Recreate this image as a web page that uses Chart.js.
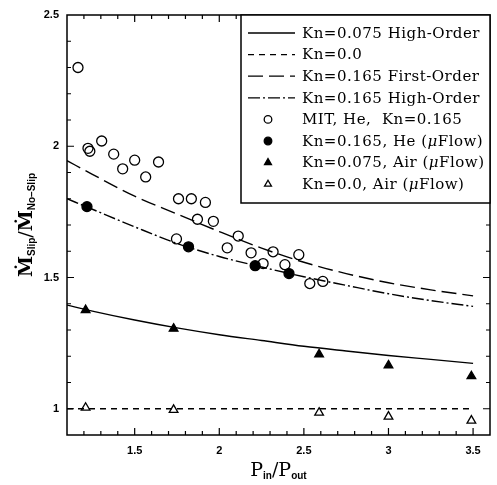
<!DOCTYPE html>
<html>
<head>
<meta charset="utf-8">
<script src="https://cdn.jsdelivr.net/npm/chart.js@4.4.1/dist/chart.umd.min.js"></script>
<style>
  html, body { margin: 0; padding: 0; background: #fff; }
  #wrap { width: 497px; height: 485px; }
</style>
</head>
<body>
<div id="wrap"><canvas id="slipChart" width="497" height="485"></canvas></div>
<script>
// ---- data ----
const xTicks = [1.5, 2, 2.5, 3, 3.5];
const yTicks = [1, 1.5, 2, 2.5];

// model curves (pressure ratio -> mass flow ratio)
const curveX = [1.1, 1.25, 1.5, 1.75, 2.0, 2.25, 2.5, 2.75, 3.0, 3.25, 3.5];
const kn075High = [1.395, 1.372, 1.338, 1.308, 1.282, 1.26, 1.238, 1.22, 1.203, 1.188, 1.173];
const kn0 = [1, 1, 1, 1, 1, 1, 1, 1, 1, 1, 1];
const kn165First = [1.945, 1.893, 1.81, 1.742, 1.675, 1.612, 1.558, 1.515, 1.48, 1.453, 1.43];
const kn165High = [1.80, 1.76, 1.693, 1.63, 1.58, 1.54, 1.503, 1.47, 1.438, 1.412, 1.39];

// MIT experiments, He
const mitX = [1.165, 1.224, 1.235, 1.305, 1.376, 1.429, 1.5, 1.565, 1.641, 1.759, 1.835, 1.918,
              1.871, 1.965, 1.747, 2.047, 2.112, 2.188, 2.259, 2.318, 2.388, 2.47, 2.535, 2.612];
const mitY = [2.30, 1.992, 1.981, 2.02, 1.97, 1.914, 1.947, 1.883, 1.94, 1.80, 1.80, 1.786,
              1.722, 1.714, 1.647, 1.613, 1.658, 1.594, 1.553, 1.598, 1.549, 1.587, 1.477, 1.485];

// muFlow simulations
const heFlowX = [1.218, 1.818, 2.212, 2.412];
const heFlowY = [1.77, 1.617, 1.545, 1.515];
const airX = [1.21, 1.73, 2.59, 3.0, 3.49];
const air075Y = [1.376, 1.305, 1.207, 1.165, 1.124];
const air0Y = [1.004, 0.996, 0.985, 0.97, 0.955];

function pairs(xs, ys) {
    return xs.map((x, i) => ({ x: x, y: ys[i] }));
}

const SERIF = '"DejaVu Serif", serif';
const SANS = '"Liberation Sans", Arial, sans-serif';

// draws a run of text pieces {text, font, dy} starting at x (or centred)
function drawRich(ctx, pieces, x, y, align) {
    let total = 0;
    pieces.forEach(p => { ctx.font = p.font; total += ctx.measureText(p.text).width; });
    let cx = align === 'center' ? x - total / 2 : x;
    pieces.forEach(p => {
        ctx.font = p.font;
        ctx.fillText(p.text, cx, y + (p.dy || 0));
        cx += ctx.measureText(p.text).width;
    });
}

function drawMarker(ctx, style, r, x, y, filled) {
    ctx.beginPath();
    if (style === 'triangle') {
        for (let k = 0; k < 3; k++) {
            const a = k * 2 * Math.PI / 3;
            const px = x + Math.sin(a) * r, py = y - Math.cos(a) * r;
            if (k === 0) ctx.moveTo(px, py); else ctx.lineTo(px, py);
        }
        ctx.closePath();
    } else {
        ctx.arc(x, y, r, 0, Math.PI * 2);
    }
    if (filled) ctx.fill();
    ctx.stroke();
}

// frame with inward ticks on all four sides
const frameTicks = {
    id: 'frameTicks',
    afterDatasetsDraw(chart) {
        const ctx = chart.ctx, a = chart.chartArea;
        const xs = chart.scales.x, ys = chart.scales.y;
        ctx.save();
        ctx.strokeStyle = '#000';
        ctx.lineWidth = 1.5;
        ctx.strokeRect(a.left, a.top, a.right - a.left, a.bottom - a.top);
        ctx.lineWidth = 1.2;
        ctx.beginPath();
        for (let k = 12; k <= 35; k++) {
            const px = xs.getPixelForValue(k / 10);
            const len = k % 5 === 0 ? 7 : 4;
            ctx.moveTo(px, a.bottom); ctx.lineTo(px, a.bottom - len);
            ctx.moveTo(px, a.top); ctx.lineTo(px, a.top + len);
        }
        for (let k = 10; k <= 24; k++) {
            const py = ys.getPixelForValue(k / 10);
            const len = k % 5 === 0 ? 7 : 4;
            ctx.moveTo(a.left, py); ctx.lineTo(a.left + len, py);
            ctx.moveTo(a.right, py); ctx.lineTo(a.right - len, py);
        }
        ctx.stroke();
        ctx.restore();
    }
};

// boxed legend in the upper right corner of the plot
const boxLegend = {
    id: 'boxLegend',
    afterDatasetsDraw(chart) {
        const ctx = chart.ctx, a = chart.chartArea;
        const sets = chart.data.datasets;
        const left = a.right - 249, top = a.top, rowH = 21.6;
        const bottom = top + 188;
        ctx.save();
        ctx.fillStyle = '#fff';
        ctx.fillRect(left, top, a.right - left, bottom - top);
        ctx.strokeStyle = '#000';
        ctx.lineWidth = 1.5;
        ctx.strokeRect(left, top, a.right - left, bottom - top);
        sets.forEach((ds, i) => {
            const y = top + 18 + i * rowH;
            ctx.strokeStyle = '#000';
            ctx.fillStyle = '#000';
            if (ds.showLine) {
                ctx.lineWidth = 1.3;
                ctx.setLineDash(ds.borderDash || []);
                ctx.beginPath();
                ctx.moveTo(left + 7, y); ctx.lineTo(left + 54, y);
                ctx.stroke();
                ctx.setLineDash([]);
            } else {
                ctx.lineWidth = 1.3;
                const filled = ds.backgroundColor === '#000';
                drawMarker(ctx, ds.pointStyle, ds.pointStyle === 'triangle' ? 4 : 3.8, left + 27, y, filled);
            }
            ctx.textBaseline = 'middle';
            ctx.letterSpacing = '0.5px';
            const parts = ds.label.split('μ');
            const pieces = [{ text: parts[0], font: '15px ' + SERIF }];
            if (parts.length > 1) {
                pieces.push({ text: 'μ', font: 'italic 15px ' + SERIF });
                pieces.push({ text: parts[1], font: '15px ' + SERIF });
            }
            drawRich(ctx, pieces, left + 61, y + 1, 'left');
            ctx.letterSpacing = '0px';
        });
        ctx.restore();
    }
};

// axis titles with subscripts
const axisTitles = {
    id: 'axisTitles',
    afterDraw(chart) {
        const ctx = chart.ctx, a = chart.chartArea;
        ctx.save();
        ctx.fillStyle = '#000';
        ctx.textBaseline = 'alphabetic';
        drawRich(ctx, [
            { text: 'P', font: '19px ' + SERIF },
            { text: 'in', font: 'bold 10px ' + SANS, dy: 3 },
            { text: '/', font: '19px ' + SERIF },
            { text: 'P', font: '19px ' + SERIF },
            { text: 'out', font: 'bold 10px ' + SANS, dy: 3 }
        ], (a.left + a.right) / 2, 476, 'center');

        ctx.translate(32, (a.top + a.bottom) / 2);
        ctx.rotate(-Math.PI / 2);
        drawRich(ctx, [
            { text: 'Ṁ', font: 'bold 19px ' + SERIF },
            { text: 'Slip', font: 'bold 10px ' + SANS, dy: 3 },
            { text: '/', font: '19px ' + SERIF },
            { text: 'Ṁ', font: 'bold 19px ' + SERIF },
            { text: 'No\u2013Slip', font: 'bold 10px ' + SANS, dy: 3 }
        ], 0, 0, 'center');
        ctx.restore();
    }
};

const lineBase = { showLine: true, pointRadius: 0, borderColor: '#000', borderWidth: 1.4,
                   cubicInterpolationMode: 'monotone', fill: false, order: 1 };
const markBase = { showLine: false, borderColor: '#000', borderWidth: 1.3, order: 0 };

const ctx = document.getElementById('slipChart').getContext('2d');
new Chart(ctx, {
    type: 'scatter',
    data: {
        datasets: [
            Object.assign({}, lineBase, { label: 'Kn=0.075 High-Order', data: pairs(curveX, kn075High) }),
            Object.assign({}, lineBase, { label: 'Kn=0.0', data: pairs(curveX, kn0), borderDash: [6, 5] }),
            Object.assign({}, lineBase, { label: 'Kn=0.165 First-Order', data: pairs(curveX, kn165First), borderDash: [15, 6] }),
            Object.assign({}, lineBase, { label: 'Kn=0.165 High-Order', data: pairs(curveX, kn165High), borderDash: [12, 3, 2, 3] }),
            Object.assign({}, markBase, { label: 'MIT, He,  Kn=0.165', data: pairs(mitX, mitY),
                pointStyle: 'circle', pointRadius: 5, backgroundColor: 'rgba(0,0,0,0)' }),
            Object.assign({}, markBase, { label: 'Kn=0.165, He (μFlow)', data: pairs(heFlowX, heFlowY),
                pointStyle: 'circle', pointRadius: 5, backgroundColor: '#000' }),
            Object.assign({}, markBase, { label: 'Kn=0.075, Air (μFlow)', data: pairs(airX, air075Y),
                pointStyle: 'triangle', pointRadius: 5, backgroundColor: '#000' }),
            Object.assign({}, markBase, { label: 'Kn=0.0, Air (μFlow)', data: pairs(airX, air0Y),
                pointStyle: 'triangle', pointRadius: 5, backgroundColor: 'rgba(0,0,0,0)' })
        ]
    },
    options: {
        responsive: false,
        animation: false,
        layout: { padding: { top: 15, right: 7, left: 0, bottom: 0 } },
        plugins: {
            legend: { display: false },
            tooltip: { enabled: false }
        },
        scales: {
            x: {
                type: 'linear',
                min: 1.1,
                max: 3.6,
                grid: { display: false, drawTicks: false },
                border: { display: false },
                afterBuildTicks: s => { s.ticks = xTicks.map(v => ({ value: v })); },
                afterFit: s => { s.height = 50; },
                ticks: { color: '#000', padding: 9, autoSkip: false, maxRotation: 0,
                         font: { family: SANS, size: 11, weight: 'bold' }, callback: v => String(v) }
            },
            y: {
                type: 'linear',
                min: 0.9,
                max: 2.5,
                grid: { display: false, drawTicks: false },
                border: { display: false },
                afterBuildTicks: s => { s.ticks = yTicks.map(v => ({ value: v })); },
                afterFit: s => { s.width = 67; },
                ticks: { color: '#000', padding: 8, autoSkip: false,
                         font: { family: SANS, size: 11, weight: 'bold' }, callback: v => String(v) }
            }
        }
    },
    plugins: [frameTicks, boxLegend, axisTitles]
});
</script>
</body>
</html>
